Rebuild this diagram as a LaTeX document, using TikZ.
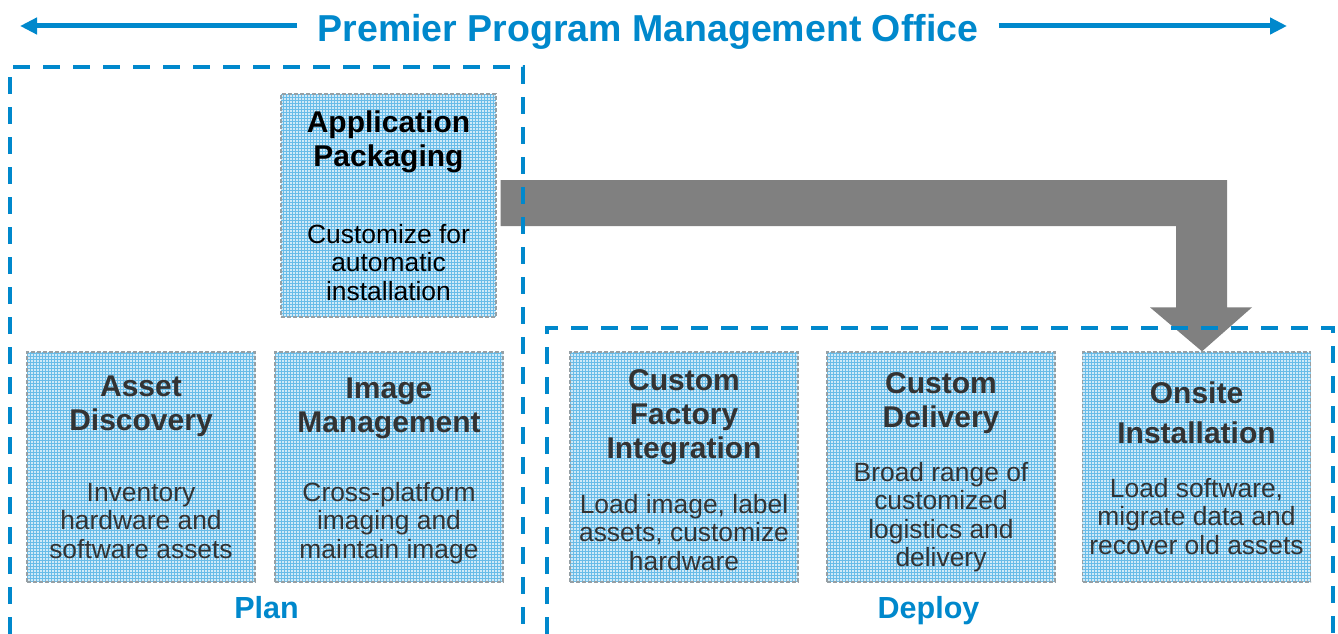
\documentclass[tikz,border=0pt]{standalone}
\usepackage{fontspec}
\setmainfont{Liberation Sans}
\usetikzlibrary{arrows.meta,calc}
\definecolor{pmblue}{RGB}{0,136,204}
\definecolor{arrowgray}{RGB}{128,128,128}
\definecolor{cardfill}{RGB}{208,234,248}
\definecolor{cardgrid}{RGB}{105,188,232}
\definecolor{cardedge}{RGB}{150,160,165}
\definecolor{darktext}{RGB}{51,51,51}
\begin{document}
\begin{tikzpicture}[x=1pt,y=-1pt,
  card/.style={rectangle, inner sep=0pt, fill=cardfill, draw=cardedge, line width=1.3pt,
    dash pattern=on 4pt off 2pt, minimum width=228pt, minimum height=230pt,
    path picture={\draw[cardgrid, line width=0.6pt, solid]
      (path picture bounding box.south west) grid[step=3pt] (path picture bounding box.north east);}},
  head/.style={anchor=north, inner sep=0pt, align=center, text=darktext,
    font=\fontsize{30}{34}\selectfont\bfseries},
  body/.style={anchor=north, inner sep=0pt, align=center, text=darktext,
    font=\fontsize{26.4}{28.5}\selectfont},
  group/.style={pmblue, line width=4.5pt, dash pattern=on 17pt off 13pt},
  grouplabel/.style={anchor=base, inner sep=0pt, text=pmblue, font=\fontsize{30.5}{34}\selectfont\bfseries},
  titlearrow/.style={pmblue, line width=5pt, -{Triangle[length=17pt,width=16pt]}}
]
\useasboundingbox (0,0) rectangle (1338,634);

% title
\coordinate (lend) at (20,26);
\coordinate (rend) at (1287,26);
\node[anchor=base, inner xsep=20pt, inner ysep=0pt, text=pmblue,
  font=\fontsize{37.5}{40}\selectfont\bfseries] (title) at (648,41.7) {Premier Program Management Office};
\draw[titlearrow] (title.west |- lend) -- (lend);
\draw[titlearrow] (title.east |- rend) -- (rend);

% cards
\node[card, minimum width=215pt, minimum height=223pt] (app) at (388.5,205.5) {};
\node[card] (asset) at (141,467) {};
\node[card] (image) at (389,467) {};
\node[card] (cfi) at (684,467) {};
\node[card] (cd) at (941,467) {};
\node[card] (onsite) at (1196.5,467) {};

% texts
\node[head, text=black] (appH) at (388.5,111) {Application\\Packaging};
\node[body, text=black] (appB) at (388.5,224) {Customize for\\automatic\\installation};
\node[head] (assetH) at (141,376) {Asset\\Discovery};
\node[body] (assetB) at (141,483) {Inventory\\hardware and\\software assets};
\node[head] (imageH) at (389,378) {Image\\Management};
\node[body] (imageB) at (389,482) {Cross-platform\\imaging and\\maintain image};
\node[head] (cfiH) at (684,369) {Custom\\Factory\\Integration};
\node[body] (cfiB) at (684,494) {Load image, label\\assets, customize\\hardware};
\node[head] (cdH) at (941,372) {Custom\\Delivery};
\node[body] (cdB) at (941,462) {Broad range of\\customized\\logistics and\\delivery};
\node[head, font=\fontsize{30}{40}\selectfont\bfseries] (onsiteH) at (1196.5,382) {Onsite\\Installation};
\node[body] (onsiteB) at (1196.5,478) {Load software,\\migrate data and\\recover old assets};

% big gray connector
\fill[arrowgray] let \p1=($(app.east)+(4,0)$), \p2=($(onsite.north)+(5.5,0)$) in
  (\x1,\y1+25.5pt) -- (\x2+25pt,\y1+25.5pt) -- (\x2+25pt,\y2+44pt) -- (\x2+50pt,\y2+44pt)
  -- (\x2,\y2) -- (\x2-52pt,\y2+44pt) -- (\x2-26pt,\y2+44pt) -- (\x2-26pt,\y1-20.5pt)
  -- (\x1,\y1-20.5pt) -- cycle;

% group frames
\draw[group] (10,634) -- (10,67) -- (523,67) -- (523,634);
\draw[group] (547,634) -- (547,328) -- (1333,328) -- (1333,634);
\node[grouplabel] (plan) at (266.5,618) {Plan};
\node[grouplabel] (deploy) at (928.5,618) {Deploy};
\end{tikzpicture}
\end{document}
